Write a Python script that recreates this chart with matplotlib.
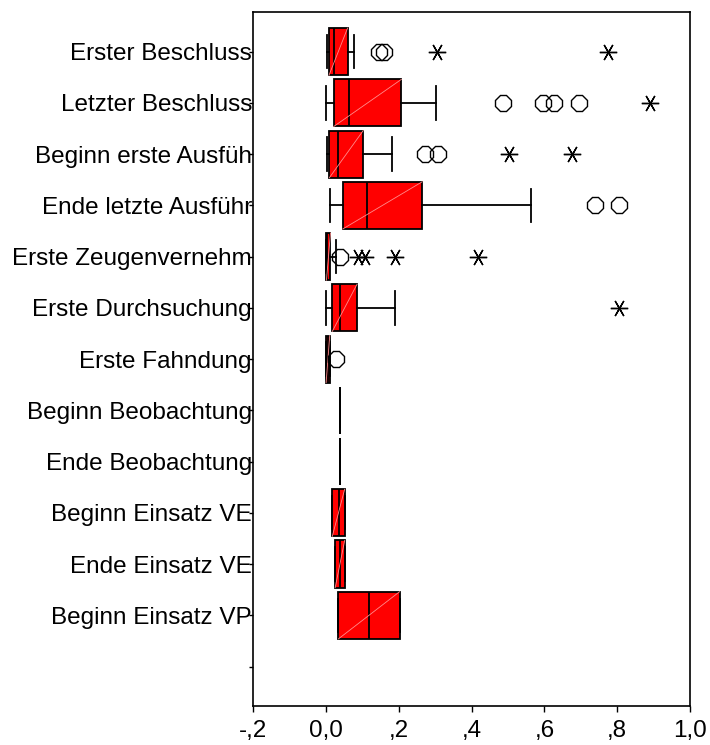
import matplotlib
matplotlib.use("Agg")
import matplotlib.pyplot as plt

# Category labels as visible in the chart (SPSS cuts long labels at the axis)
categories = [
    "Erster Beschluss",
    "Letzter Beschluss",
    "Beginn erste Ausfüh",
    "Ende letzte Ausführ",
    "Erste Zeugenvernehm",
    "Erste Durchsuchung",
    "Erste Fahndung",
    "Beginn Beobachtung",
    "Ende Beobachtung",
    "Beginn Einsatz VE",
    "Ende Einsatz VE",
    "Beginn Einsatz VP",
    "",
]

# Box statistics (last category is empty)
whisker_low = [0.002, 0.000, 0.002, 0.012, 0.001, 0.001, 0.000, 0.037, 0.037, 0.017, 0.025, 0.034]
q1 = [0.008, 0.021, 0.009, 0.046, 0.001, 0.017, 0.000, 0.037, 0.037, 0.017, 0.025, 0.034]
median = [0.021, 0.063, 0.034, 0.113, 0.003, 0.038, 0.004, 0.037, 0.037, 0.035, 0.037, 0.118]
q3 = [0.059, 0.207, 0.102, 0.264, 0.012, 0.085, 0.010, 0.037, 0.037, 0.051, 0.051, 0.202]
whisker_high = [0.076, 0.303, 0.180, 0.562, 0.026, 0.189, 0.010, 0.037, 0.037, 0.051, 0.051, 0.202]

# Outliers (circles) and extreme values (asterisks)
outliers = [
    [0.145, 0.159],
    [0.486, 0.596, 0.625, 0.696],
    [0.271, 0.307],
    [0.740, 0.806],
    [0.037],
    [],
    [0.028],
    [], [], [], [], [],
]
extremes = [
    [0.304, 0.776],
    [0.889],
    [0.502, 0.675],
    [],
    [0.088, 0.106, 0.188, 0.418],
    [0.804],
    [], [], [], [], [], [],
]

x_ticks = [-0.2, 0.0, 0.2, 0.4, 0.6, 0.8, 1.0]
x_tick_labels = ["-,2", "0,0", ",2", ",4", ",6", ",8", "1,0"]

plt.rcParams["font.family"] = ["Liberation Sans", "DejaVu Sans"]

fig = plt.figure(figsize=(7.1, 7.45), dpi=100)
ax = fig.add_axes([0.3568, 0.0517, 0.615, 0.9326])

positions = list(range(1, len(categories) + 1))
stats = []
for i in range(len(q1)):
    stats.append({
        "med": median[i], "q1": q1[i], "q3": q3[i],
        "whislo": whisker_low[i], "whishi": whisker_high[i], "fliers": [],
    })

box_w = 0.92
lw = 1.3
ax.bxp(
    stats,
    positions=positions[:len(stats)],
    widths=box_w,
    capwidths=0.65,
    orientation="horizontal",
    patch_artist=True,
    showfliers=False,
    boxprops=dict(facecolor="#ff0000", edgecolor="black", linewidth=lw),
    medianprops=dict(color="black", linewidth=lw),
    whiskerprops=dict(color="black", linewidth=lw),
    capprops=dict(color="black", linewidth=lw),
    zorder=2,
)

# faint diagonal across each box, as SPSS draws it
for pos, lo, hi in zip(positions, q1, q3):
    if hi - lo > 0.005:
        ax.plot([lo, hi], [pos + box_w / 2, pos - box_w / 2],
                color="#ff8c8c", linewidth=0.6, zorder=2.5)

for pos, vals in zip(positions, outliers):
    if vals:
        ax.plot(vals, [pos] * len(vals), linestyle="none", marker="8",
                markersize=12.5, markerfacecolor="none", markeredgecolor="black",
                markeredgewidth=1.0, zorder=3)

for pos, vals in zip(positions, extremes):
    if vals:
        ax.plot(vals, [pos] * len(vals), linestyle="none", marker=(6, 2, 90),
                markersize=12.5, color="black", markeredgewidth=1.0, zorder=3)

ax.set_xlim(-0.2, 1.0)
ax.set_ylim(len(categories) + 0.78, 0.22)
ax.set_xticks(x_ticks)
ax.set_xticklabels(x_tick_labels, fontsize=17.5)
ax.set_yticks(positions)
ax.set_yticklabels(categories, fontsize=17.5)

ax.tick_params(axis="x", direction="out", length=4, width=1.0, pad=6)
ax.tick_params(axis="y", direction="out", length=3, width=1.0, pad=-2)
for spine in ax.spines.values():
    spine.set_linewidth(1.2)

fig.savefig("out.png", dpi=100)
